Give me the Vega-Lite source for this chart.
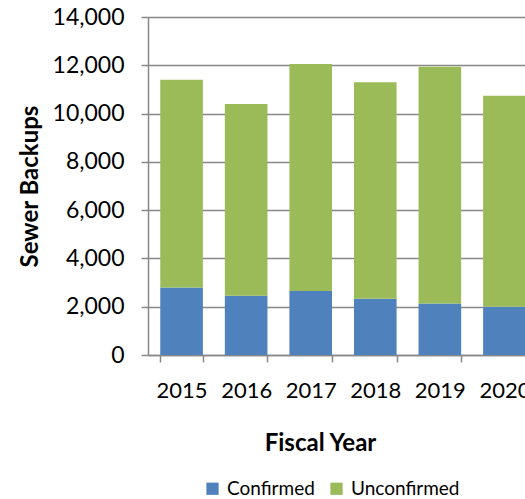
{
  "$schema": "https://vega.github.io/schema/vega-lite/v6.json",
  "autosize": {"type": "none"},
  "padding": {"left": 148, "top": 17, "right": 10, "bottom": 150},
  "width": 390,
  "height": 338,
  "background": "white",
  "config": {
    "font": "Lato",
    "view": {"stroke": null},
    "axis": {"labelFont": "Lato", "titleFont": "Lato", "labelColor": "#000000", "titleColor": "#000000"}
  },
  "data": {
    "values": [
      {"year": "2015", "type": "Confirmed", "value": 2800},
      {"year": "2015", "type": "Unconfirmed", "value": 8600},
      {"year": "2016", "type": "Confirmed", "value": 2450},
      {"year": "2016", "type": "Unconfirmed", "value": 7950},
      {"year": "2017", "type": "Confirmed", "value": 2650},
      {"year": "2017", "type": "Unconfirmed", "value": 9400},
      {"year": "2018", "type": "Confirmed", "value": 2330},
      {"year": "2018", "type": "Unconfirmed", "value": 8970},
      {"year": "2019", "type": "Confirmed", "value": 2130},
      {"year": "2019", "type": "Unconfirmed", "value": 9810},
      {"year": "2020", "type": "Confirmed", "value": 2000},
      {"year": "2020", "type": "Unconfirmed", "value": 8740}
    ]
  },
  "mark": {"type": "bar"},
  "encoding": {
    "x": {
      "field": "year",
      "type": "ordinal",
      "scale": {"paddingInner": 0.34, "paddingOuter": 0.19},
      "axis": {
        "title": "Fiscal Year",
        "titleFontSize": 24,
        "titleFontWeight": "bold",
        "titleX": 172,
        "titleY": 95,
        "titleAlign": "center",
        "titleBaseline": "alphabetic",
        "labelAngle": 0,
        "labelFontSize": 22,
        "labelPadding": 18,
        "tickBand": "extent",
        "tickSize": 7,
        "tickColor": "#888888",
        "tickWidth": 1.5,
        "domainColor": "#888888",
        "domainWidth": 1.5,
        "grid": false
      }
    },
    "y": {
      "field": "value",
      "type": "quantitative",
      "stack": "zero",
      "scale": {"domain": [0, 14000], "nice": false},
      "axis": {
        "title": "Sewer Backups",
        "titleFontSize": 24,
        "titleFontWeight": "bold",
        "titleAngle": 270,
        "titleX": -118,
        "titleY": 169,
        "titleAlign": "center",
        "titleBaseline": "middle",
        "values": [0, 2000, 4000, 6000, 8000, 10000, 12000, 14000],
        "format": ",.0f",
        "labelFontSize": 23,
        "labelPadding": 17,
        "tickSize": 7,
        "tickColor": "#888888",
        "tickWidth": 1.5,
        "domainColor": "#888888",
        "domainWidth": 1.5,
        "grid": true,
        "gridColor": "#888888",
        "gridWidth": 1.5
      }
    },
    "color": {
      "field": "type",
      "type": "nominal",
      "scale": {"domain": ["Confirmed", "Unconfirmed"], "range": ["#4F81BD", "#9BBB59"]},
      "legend": {
        "title": null,
        "orient": "none",
        "direction": "horizontal",
        "legendX": 55,
        "legendY": 462,
        "symbolType": "square",
        "symbolSize": 150,
        "symbolStrokeWidth": 0,
        "labelFontSize": 19,
        "labelFont": "Lato",
        "labelColor": "#000000",
        "labelOffset": 5,
        "columnPadding": 12
      }
    },
    "order": {"field": "type", "sort": "ascending"}
  }
}
